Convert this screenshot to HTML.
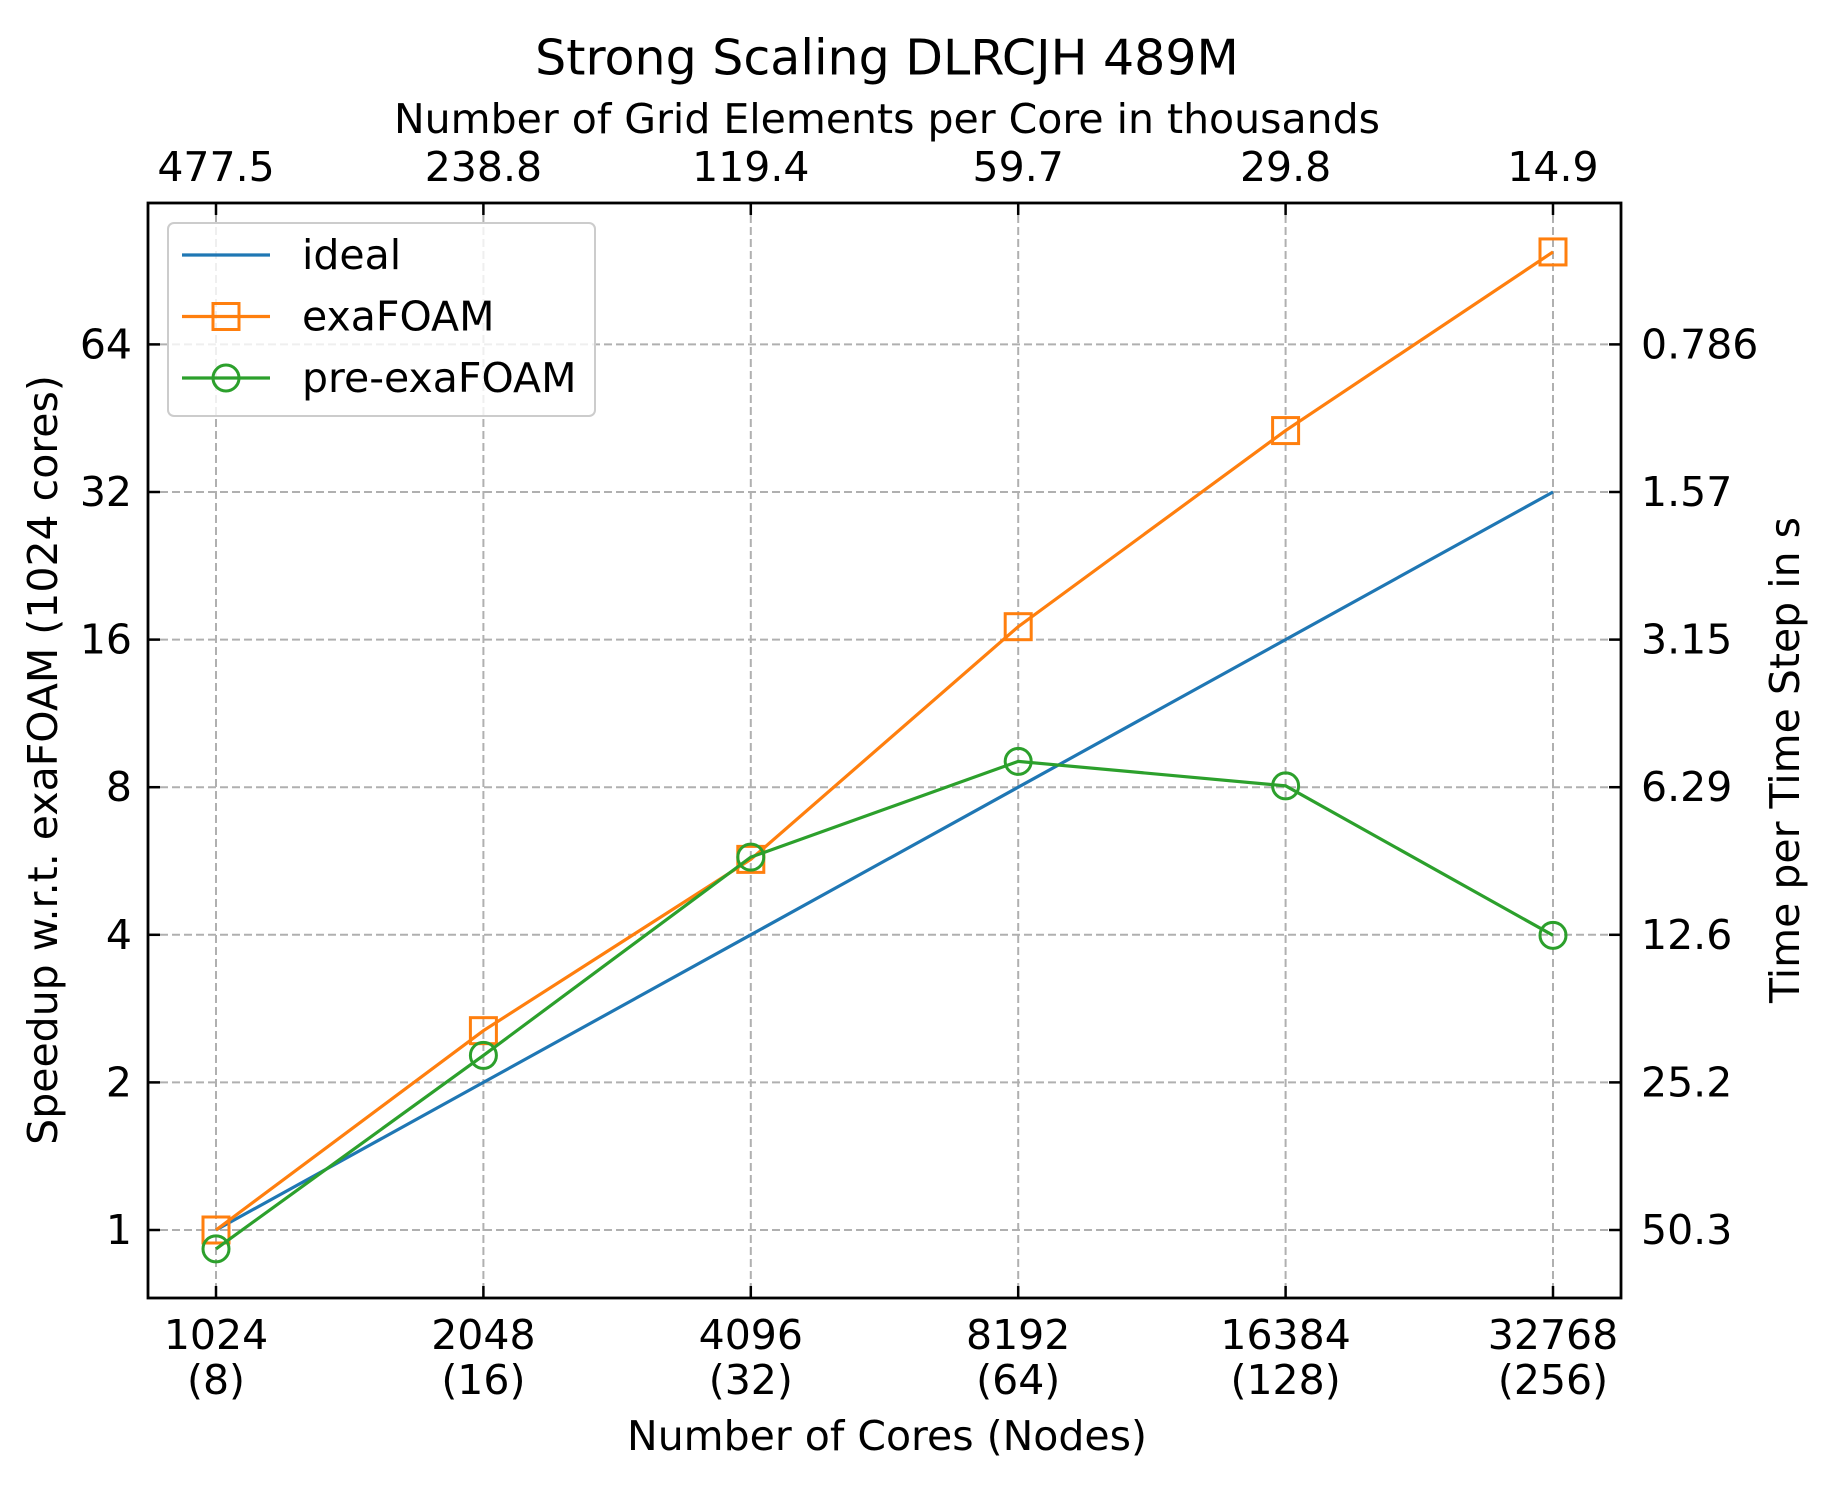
<!DOCTYPE html>
<html><head><meta charset="utf-8"><style>body{margin:0;background:#fff}svg text{font-family:"DejaVu Sans","Liberation Sans",sans-serif;fill:#000}</style></head>
<body>
<svg id="c" width="1833" height="1498" viewBox="0 0 1833 1498">
<rect width="1833" height="1498" fill="#fff"/>
<g id="g"></g>
</svg>
<script>
const cores=[1024,2048,4096,8192,16384,32768];
const nodes=[8,16,32,64,128,256];
const topLabels=["477.5","238.8","119.4","59.7","29.8","14.9"];
const idealVals=[1,2,4,8,16,32];
const exaVals=[1.0,2.55,5.7,17.0,42.7,98.8];
const preVals=[0.915,2.27,5.76,9.03,8.05,3.99];
const yTicks=[1,2,4,8,16,32,64];
const rightLabels=["50.3","25.2","12.6","6.29","3.15","1.57","0.786"];
const L=148,R=1621,T=203,B=1298;
function xs(c){return 216+(Math.log2(c)-10)*267.4;}
function ys(v){return 1230-Math.log2(v)*147.6;}
const NS="http://www.w3.org/2000/svg";
const g=document.getElementById('g');
const FS=41;
function el(t,a,txt){const e=document.createElementNS(NS,t);for(const k in a)e.setAttribute(k,a[k]);if(txt!==undefined)e.textContent=txt;g.appendChild(e);return e;}
cores.forEach((c,i)=>{
 let e=el('line',{x1:xs(c),x2:xs(c),y1:T,y2:B,stroke:'#b0b0b0','stroke-width':2,'stroke-dasharray':'8,4'});
 
 
 el('line',{x1:xs(c),x2:xs(c),y1:B,y2:B-12,stroke:'#000','stroke-width':2.5});
 el('line',{x1:xs(c),x2:xs(c),y1:T,y2:T+12,stroke:'#000','stroke-width':2.5});
 e=el('text',{x:xs(c),y:1335,'font-size':FS,'text-anchor':'middle','dominant-baseline':'central'},String(c));
 
 
 e=el('text',{x:xs(c),y:1380,'font-size':FS,'text-anchor':'middle','dominant-baseline':'central'},'('+nodes[i]+')');
 
 
 e=el('text',{x:xs(c),y:167,'font-size':FS,'text-anchor':'middle','dominant-baseline':'central'},topLabels[i]);
 
 
});
yTicks.forEach((v,i)=>{
 let e=el('line',{x1:L,x2:R,y1:ys(v),y2:ys(v),stroke:'#b0b0b0','stroke-width':2,'stroke-dasharray':'8,4'});
 
 
 el('line',{x1:L,x2:L+12,y1:ys(v),y2:ys(v),stroke:'#000','stroke-width':2.5});
 el('line',{x1:R,x2:R-12,y1:ys(v),y2:ys(v),stroke:'#000','stroke-width':2.5});
 e=el('text',{x:132,y:ys(v),'font-size':FS,'text-anchor':'end','dominant-baseline':'central'},String(v));
 
 
 e=el('text',{x:1641,y:ys(v),'font-size':FS,'dominant-baseline':'central'},rightLabels[i]);
 
 
});
function series(vals,color,marker,name){
 const pts=vals.map((v,i)=>xs(cores[i])+','+ys(v)).join(' ');
 let e=el('polyline',{points:pts,fill:'none',stroke:color,'stroke-width':3.2});
 
 
 if(marker) vals.forEach((v,i)=>{
  const x=xs(cores[i]),y=ys(v);
  if(marker==='s') e=el('rect',{x:x-13,y:y-13,width:26,height:26,fill:'none',stroke:color,'stroke-width':3});
  else e=el('circle',{cx:x,cy:y,r:13,fill:'none',stroke:color,'stroke-width':3});
  
  
 });
}
series(idealVals,'#1f77b4',null,'ideal');
series(exaVals,'#ff7f0e','s','exafoam');
series(preVals,'#2ca02c','o','pre-exafoam');
let e=el('rect',{x:L,y:T,width:R-L,height:B-T,fill:'none',stroke:'#000','stroke-width':2.8});


e=el('rect',{x:168,y:223,width:427,height:193,rx:6,fill:'#fff','fill-opacity':0.8,stroke:'#ccc','stroke-width':2});


const leg=[['ideal','#1f77b4',null],['exaFOAM','#ff7f0e','s'],['pre-exaFOAM','#2ca02c','o']];
leg.forEach((l,i)=>{
 const y=255+i*61.5;
 el('line',{x1:182,x2:270,y1:y,y2:y,stroke:l[1],'stroke-width':3.2});
 if(l[2]==='s') el('rect',{x:213,y:y-13,width:26,height:26,fill:'none',stroke:l[1],'stroke-width':3});
 if(l[2]==='o') el('circle',{cx:226,cy:y,r:13,fill:'none',stroke:l[1],'stroke-width':3});
 e=el('text',{x:302,y:y,'font-size':FS,'dominant-baseline':'central'},l[0]);
 
 
});
e=el('text',{x:887,y:58,'font-size':49,'text-anchor':'middle','dominant-baseline':'central'},'Strong Scaling DLRCJH 489M');


e=el('text',{x:887,y:119,'font-size':FS,'text-anchor':'middle','dominant-baseline':'central'},'Number of Grid Elements per Core in thousands');


e=el('text',{x:887,y:1436,'font-size':FS,'text-anchor':'middle','dominant-baseline':'central'},'Number of Cores (Nodes)');


e=el('text',{x:43,y:760,'font-size':FS,'text-anchor':'middle','dominant-baseline':'central',transform:'rotate(-90 43 760)'},'Speedup w.r.t. exaFOAM (1024 cores)');


e=el('text',{x:1785,y:760,'font-size':FS,'text-anchor':'middle','dominant-baseline':'central',transform:'rotate(-90 1785 760)'},'Time per Time Step in s');


</script>
</body></html>
